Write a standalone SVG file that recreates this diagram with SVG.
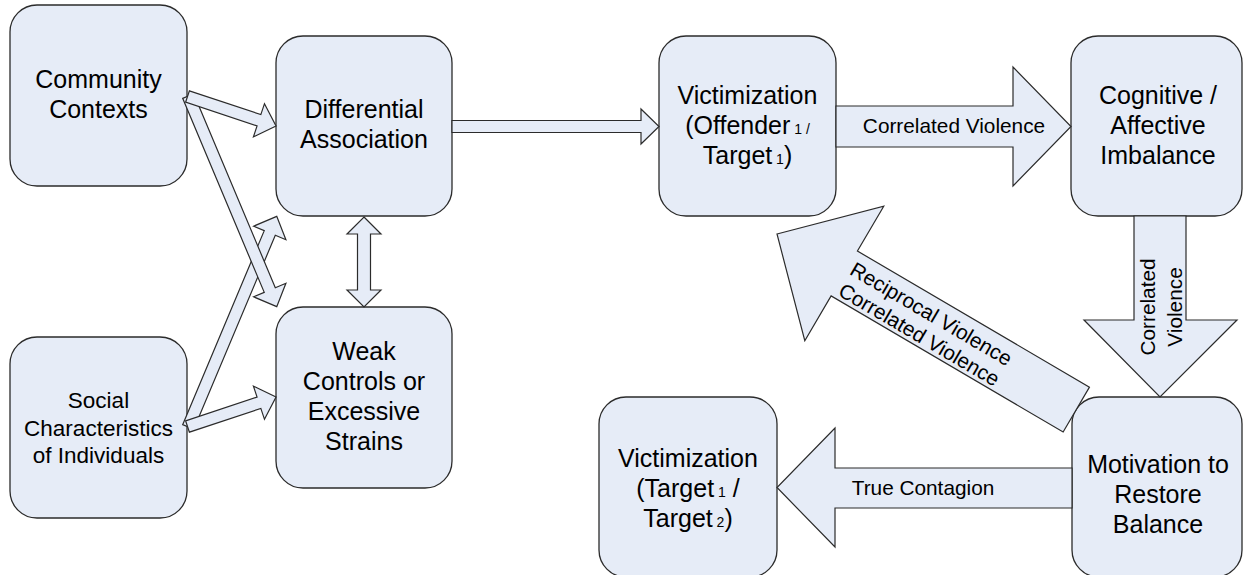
<svg xmlns="http://www.w3.org/2000/svg" width="1244" height="575" viewBox="0 0 1244 575">
<style>
.box{fill:#e6ecf7;stroke:#2b2b2b;stroke-width:1.3}
.arr{fill:#e6ecf7;stroke:#2b2b2b;stroke-width:1.2;stroke-linejoin:miter}
.t{font-family:"Liberation Sans",Arial,sans-serif;font-size:25px;fill:#000;text-anchor:middle}
.ts{font-family:"Liberation Sans",Arial,sans-serif;font-size:22.5px;fill:#000;text-anchor:middle}
.lb{font-family:"Liberation Sans",Arial,sans-serif;font-size:20.8px;fill:#000;text-anchor:middle}
.sub{font-size:14px}
</style>
<rect width="1244" height="575" fill="#fff"/>
<g id="community">
<rect class="box" x="10" y="5" width="177" height="181" rx="27"/>
<text class="t" x="98.5" y="88">Community</text>
<text class="t" x="98.5" y="118">Contexts</text>
</g>
<g id="social">
<rect class="box" x="10" y="337" width="177" height="181" rx="27"/>
<text class="ts" x="98.5" y="408">Social</text>
<text class="ts" x="98.5" y="435.5">Characteristics</text>
<text class="ts" x="98.5" y="463">of Individuals</text>
</g>
<g id="differential">
<rect class="box" x="276" y="36" width="176" height="180" rx="27"/>
<text class="t" x="364" y="118">Differential</text>
<text class="t" x="364" y="148">Association</text>
</g>
<g id="weak">
<rect class="box" x="276" y="307" width="176" height="181" rx="27"/>
<text class="t" x="364" y="360">Weak</text>
<text class="t" x="364" y="390">Controls or</text>
<text class="t" x="364" y="420">Excessive</text>
<text class="t" x="364" y="450">Strains</text>
</g>
<g id="victimization1">
<rect class="box" x="659" y="36" width="177" height="180" rx="27"/>
<text class="t" x="747.5" y="104">Victimization</text>
<text class="t" x="747.5" y="134">(Offender<tspan class="sub"> 1 /</tspan></text>
<text class="t" x="747.5" y="164">Target<tspan class="sub"> 1</tspan>)</text>
</g>
<g id="cognitive">
<rect class="box" x="1071" y="36" width="171" height="180" rx="27"/>
<text class="t" x="1158" y="104">Cognitive /</text>
<text class="t" x="1158" y="134">Affective</text>
<text class="t" x="1158" y="164">Imbalance</text>
</g>
<g id="victimization2">
<rect class="box" x="599" y="397" width="178" height="180" rx="27"/>
<text class="t" x="688" y="467">Victimization</text>
<text class="t" x="688" y="497">(Target<tspan class="sub"> 1</tspan> /</text>
<text class="t" x="688" y="527">Target<tspan class="sub"> 2</tspan>)</text>
</g>
<g id="motivation">
<rect class="box" x="1072" y="397" width="170" height="180" rx="27"/>
<text class="t" x="1158" y="473">Motivation to</text>
<text class="t" x="1158" y="503">Restore</text>
<text class="t" x="1158" y="533">Balance</text>
</g>
<g id="connectors">
<polygon class="arr" transform="translate(188.2,427) rotate(-67.2)" points="0,-6 210.5,-6 210.5,-17.5 228.5,0 210.5,17.5 210.5,6 0,6"/>
<polygon class="arr" transform="translate(188.2,96) rotate(67.2)" points="0,-6 210.5,-6 210.5,-17.5 228.5,0 210.5,17.5 210.5,6 0,6"/>
<polygon class="arr" transform="translate(187.5,96.5) rotate(18.4)" points="0,-6 75.3,-6 75.3,-17.5 93.3,0 75.3,17.5 75.3,6 0,6"/>
<polygon class="arr" transform="translate(187.5,426.5) rotate(-18.4)" points="0,-6 75.3,-6 75.3,-17.5 93.3,0 75.3,17.5 75.3,6 0,6"/>
<polygon class="arr" points="364,217 381,234 370.5,234 370.5,290 381,290 364,307 347,290 357.5,290 357.5,234 347,234"/>
<polygon class="arr" points="452,120.5 641,120.5 641,109 659,126.5 641,144 641,132.5 452,132.5"/>
<polygon class="arr" points="836,106 1013,106 1013,67 1071,126.5 1013,186 1013,147 836,147"/>
<text class="lb" x="954" y="133">Correlated Violence</text>
<polygon class="arr" points="1134,216 1186,216 1186,320 1237,320 1160,397 1084,320 1134,320"/>
<text class="lb" transform="translate(1155,307) rotate(-90)">Correlated</text>
<text class="lb" transform="translate(1182,307) rotate(-90)">Violence</text>
<g transform="translate(777,234) rotate(30.4)">
<polygon class="arr" points="0,0 78,-78 78,-26 347,-26 347,26 78,26 78,78"/>
<text class="lb" x="173.5" y="-2">Reciprocal Violence</text>
<text class="lb" x="173.5" y="22">Correlated Violence</text>
</g>
<polygon class="arr" points="1072,468 835,468 835,428 777,487.5 835,547 835,508 1072,508"/>
<text class="lb" x="923" y="495">True Contagion</text>
</g>
</svg>
